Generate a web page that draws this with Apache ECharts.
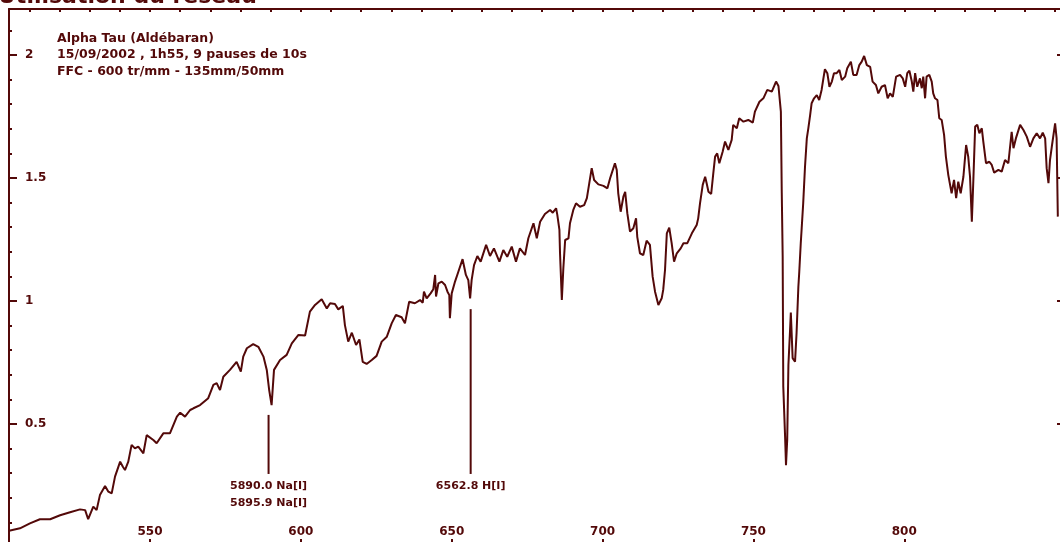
<!DOCTYPE html>
<html>
<head>
<meta charset="utf-8">
<script src="https://cdn.jsdelivr.net/npm/echarts@6.0.0/dist/echarts.min.js"></script>
<style>
  html, body { margin: 0; padding: 0; background: #ffffff; }
  #chart { width: 1060px; height: 542px; }
</style>
</head>
<body>
<div id="chart"></div>
<script>
// Spectre d'Aldébaran : longueur d'onde (nm) et intensité relative
const wavelengths = [
  503.3, 506.9, 510.2, 513.5, 516.9, 520.2, 523.5, 526.8, 528.5, 529.5,
  531.2, 532.3, 533.4, 535.1, 536.2, 537.3, 538.4, 540.1, 541.0, 541.7,
  542.8, 543.9, 545.0, 546.1, 547.8, 548.9, 551.1, 552.2, 554.4, 556.6,
  558.9, 560.0, 561.6, 563.3, 564.4, 566.6, 569.3, 571.0, 572.1, 573.2,
  574.3, 576.5, 578.7, 580.1, 580.9, 582.1, 584.2, 585.9, 587.6, 588.7,
  589.5, 590.3, 591.1, 593.1, 595.3, 597.0, 599.2, 601.4, 603.0, 604.7,
  606.9, 608.6, 609.7, 611.3, 612.4, 613.9, 614.6, 615.7, 616.9, 618.3,
  619.4, 620.5, 621.8, 623.5, 625.1, 626.8, 628.5, 630.1, 631.5, 633.4,
  634.5, 635.9, 637.8, 639.5, 640.4, 640.8, 641.7, 643.0, 643.9, 644.5,
  644.8, 645.6, 646.7, 647.8, 648.6, 649.2, 649.4, 650.0, 651.1, 652.2,
  653.6, 654.7, 655.5, 656.1, 656.6, 657.4, 658.5, 659.6, 661.4, 662.7,
  664.0, 665.8, 667.1, 668.4, 669.9, 671.3, 672.6, 674.3, 675.4, 677.1,
  678.2, 679.3, 680.9, 682.6, 683.5, 684.6, 685.0, 685.7, 685.9, 686.5,
  687.0, 687.6, 688.7, 689.2, 690.3, 691.2, 692.5, 693.9, 694.8, 695.6,
  696.4, 697.2, 698.6, 700.3, 701.6, 702.5, 703.4, 704.1, 704.7, 705.2,
  706.0, 706.9, 707.5, 708.2, 709.1, 710.2, 711.1, 711.5, 712.4, 713.5,
  714.6, 715.7, 716.6, 717.4, 718.5, 719.6, 720.1, 720.7, 721.3, 722.1,
  722.9, 723.7, 724.6, 725.9, 726.8, 728.1, 729.6, 731.2, 731.7, 732.3,
  733.2, 734.0, 734.5, 735.1, 736.0, 736.7, 737.3, 738.0, 738.7, 739.8,
  740.6, 741.7, 742.8, 743.3, 744.5, 745.3, 746.7, 748.3, 749.8, 750.5,
  752.0, 753.3, 754.6, 756.1, 757.5, 758.3, 759.1, 759.4, 759.7, 759.9,
  760.5, 760.8, 761.2, 761.6, 762.1, 762.4, 763.0, 763.8, 764.3, 764.9,
  765.2, 765.7, 766.0, 766.5, 767.1, 767.7, 768.2, 768.8, 769.3, 770.1,
  771.0, 771.8, 772.6, 773.2, 773.7, 774.5, 775.2, 776.0, 776.7, 777.6,
  778.5, 779.3, 780.4, 781.1, 782.3, 783.1, 784.2, 785.1, 785.9, 786.7,
  787.6, 788.7, 789.5, 790.6, 791.4, 792.5, 793.6, 794.5, 795.3, 796.2,
  797.3, 798.6, 799.5, 800.3, 801.0, 801.7, 802.5, 803.0, 803.6, 804.3,
  805.2, 805.8, 806.3, 806.9, 807.4, 808.3, 809.1, 809.6, 810.2, 811.0,
  811.6, 812.4, 813.2, 813.8, 814.6, 815.7, 816.5, 817.2, 817.9, 818.7,
  819.6, 820.5, 821.2, 821.8, 822.4, 822.9, 823.5, 824.2, 824.9, 825.7,
  826.2, 827.1, 828.2, 829.0, 829.8, 831.2, 832.3, 833.4, 834.5, 835.6,
  836.2, 837.0, 838.4, 839.5, 840.6, 841.7, 842.8, 843.9, 845.0, 845.9,
  846.7, 847.2, 847.8, 848.3, 848.9, 850.0, 850.5, 850.9
];
const intensity = [
  0.066, 0.076, 0.096, 0.113, 0.113, 0.129, 0.141, 0.153, 0.150, 0.113,
  0.164, 0.150, 0.211, 0.248, 0.225, 0.218, 0.286, 0.347, 0.326, 0.313,
  0.347, 0.415, 0.401, 0.408, 0.381, 0.455, 0.435, 0.422, 0.462, 0.462,
  0.530, 0.546, 0.530, 0.557, 0.564, 0.577, 0.605, 0.659, 0.666, 0.638,
  0.692, 0.720, 0.753, 0.713, 0.774, 0.808, 0.825, 0.814, 0.774, 0.720,
  0.638, 0.577, 0.720, 0.760, 0.781, 0.828, 0.862, 0.860, 0.957, 0.984,
  1.007, 0.970, 0.991, 0.988, 0.966, 0.980, 0.902, 0.835, 0.871, 0.821,
  0.844, 0.753, 0.744, 0.760, 0.777, 0.835, 0.855, 0.909, 0.943, 0.934,
  0.909, 0.997, 0.991, 1.004, 0.993, 1.038, 1.011, 1.031, 1.048, 1.106,
  1.018, 1.072, 1.079, 1.065, 1.038, 1.024, 0.930, 1.031, 1.079, 1.119,
  1.170, 1.106, 1.085, 1.011, 1.085, 1.146, 1.183, 1.160, 1.228, 1.183,
  1.214, 1.160, 1.207, 1.180, 1.221, 1.160, 1.214, 1.187, 1.255, 1.316,
  1.255, 1.322, 1.354, 1.370, 1.359, 1.377, 1.350, 1.289, 1.194, 1.004,
  1.133, 1.248, 1.255, 1.316, 1.370, 1.397, 1.383, 1.390, 1.418, 1.479,
  1.540, 1.492, 1.474, 1.468, 1.458, 1.499, 1.533, 1.560, 1.533, 1.438,
  1.363, 1.424, 1.444, 1.357, 1.282, 1.296, 1.336, 1.261, 1.194, 1.187,
  1.245, 1.228, 1.099, 1.038, 0.984, 1.011, 1.045, 1.126, 1.275, 1.298,
  1.235, 1.160, 1.194, 1.214, 1.235, 1.235, 1.275, 1.309, 1.336, 1.397,
  1.472, 1.505, 1.479, 1.444, 1.435, 1.519, 1.587, 1.600, 1.560, 1.607,
  1.648, 1.614, 1.655, 1.716, 1.702, 1.743, 1.729, 1.736, 1.725, 1.770,
  1.810, 1.824, 1.858, 1.851, 1.892, 1.874, 1.770, 1.438, 1.180, 0.652,
  0.448, 0.333, 0.435, 0.740, 0.870, 0.953, 0.768, 0.753, 0.869, 1.058,
  1.119, 1.237, 1.296, 1.397, 1.546, 1.661, 1.702, 1.756, 1.804, 1.824,
  1.837, 1.817, 1.858, 1.905, 1.942, 1.926, 1.871, 1.892, 1.926, 1.926,
  1.939, 1.898, 1.912, 1.946, 1.973, 1.919, 1.919, 1.959, 1.973, 1.996,
  1.959, 1.952, 1.892, 1.878, 1.844, 1.871, 1.878, 1.824, 1.844, 1.830,
  1.912, 1.919, 1.905, 1.871, 1.926, 1.936, 1.892, 1.851, 1.926, 1.871,
  1.905, 1.865, 1.912, 1.824, 1.912, 1.919, 1.892, 1.844, 1.824, 1.817,
  1.743, 1.736, 1.675, 1.587, 1.512, 1.438, 1.492, 1.418, 1.485, 1.438,
  1.505, 1.634, 1.587, 1.505, 1.322, 1.492, 1.709, 1.716, 1.682, 1.702,
  1.648, 1.560, 1.566, 1.553, 1.522, 1.533, 1.526, 1.573, 1.560, 1.688,
  1.621, 1.661, 1.716, 1.695, 1.668, 1.627, 1.661, 1.682, 1.661, 1.684,
  1.661, 1.540, 1.479, 1.573, 1.627, 1.722, 1.661, 1.343
];

// Raies identifiées : longueurs d'onde (Å) et libellés
const naLinesA = [5890.0, 5895.9];
const haLinesA = [6562.8];
const lineLabelsNa = ['5890.0 Na[I]', '5895.9 Na[I]'];
const lineLabelsHa = ['6562.8 H[I]'];
// Extrémités verticales des repères (intensité)
const markerTop = [0.537, 0.967];
const markerBottom = 0.297;

// Graduations
const xLabelTicks = [550, 600, 650, 700, 750, 800];
const xMinorTicks = [510, 520, 530, 540, 550, 560, 570, 580, 590, 600, 610, 620, 630, 640, 650,
  660, 670, 680, 690, 700, 710, 720, 730, 740, 750, 760, 770, 780, 790, 800, 810, 820, 830, 840, 850];
const yLabelTicks = [0.5, 1, 1.5, 2];
const yMinorTicks = [0.1, 0.2, 0.3, 0.4, 0.6, 0.7, 0.8, 0.9, 1.1, 1.2, 1.3, 1.4, 1.6, 1.7, 1.8, 1.9, 2.1];

const infoLines = ['Alpha Tau (Aldébaran)', '15/09/2002 , 1h55, 9 pauses de 10s', 'FFC - 600 tr/mm - 135mm/50mm'];

const INK = '#530909';
const FONT = '"DejaVu Sans", Verdana, sans-serif';

const mean = a => a.reduce((s, v) => s + v, 0) / a.length;
const naNm = mean(naLinesA) / 10;
const haNm = haLinesA[0] / 10;

const X_MIN = 503.26, X_MAX = 851.62;
const Y_MIN = 0.0204, Y_MAX = 2.187;

const spectrum = wavelengths.map((w, i) => [w, intensity[i]]);

const chart = echarts.init(document.getElementById('chart'), null, { renderer: 'canvas' });

chart.setOption({
  animation: false,
  backgroundColor: '#ffffff',
  textStyle: { fontFamily: FONT, color: INK },
  title: {
    text: infoLines.join('\n'),
    left: 57,
    top: 30,
    padding: 0,
    textStyle: { fontFamily: FONT, fontSize: 12.5, fontWeight: 'bold', color: INK, lineHeight: 16.5 }
  },
  graphic: [{
    type: 'text',
    left: -2,
    top: -14,
    style: { text: 'Utilisation du réseau', font: 'bold 22px ' + FONT, fill: INK }
  }],
  grid: { left: 9, right: 0, top: 9, bottom: 0, containLabel: false },
  xAxis: [{
    type: 'value', position: 'bottom', min: X_MIN, max: X_MAX,
    axisLine: { show: false },
    axisTick: { show: true, inside: true, length: 3, customValues: xLabelTicks, lineStyle: { color: INK, width: 2 } },
    axisLabel: { show: true, inside: true, margin: 4, customValues: xLabelTicks,
      fontFamily: FONT, fontSize: 12, fontWeight: 'bold', color: INK },
    splitLine: { show: false }
  }, {
    type: 'value', position: 'top', min: X_MIN, max: X_MAX,
    axisLine: { show: true, lineStyle: { color: INK, width: 2 } },
    axisTick: { show: true, inside: true, length: 3, customValues: xMinorTicks, lineStyle: { color: INK, width: 2 } },
    axisLabel: { show: false },
    splitLine: { show: false }
  }],
  yAxis: [{
    type: 'value', position: 'left', min: Y_MIN, max: Y_MAX,
    axisLine: { show: true, lineStyle: { color: INK, width: 2 } },
    axisTick: { show: true, inside: true, length: 8, customValues: yLabelTicks, lineStyle: { color: INK, width: 2 } },
    axisLabel: { show: true, inside: true, margin: 16, customValues: yLabelTicks,
      fontFamily: FONT, fontSize: 12, fontWeight: 'bold', color: INK },
    splitLine: { show: false }
  }, {
    type: 'value', position: 'left', offset: 0, min: Y_MIN, max: Y_MAX,
    axisLine: { show: false },
    axisTick: { show: true, inside: true, length: 3, customValues: yMinorTicks, lineStyle: { color: INK, width: 2 } },
    axisLabel: { show: false },
    splitLine: { show: false }
  }, {
    type: 'value', position: 'right', min: Y_MIN, max: Y_MAX,
    axisLine: { show: false },
    axisTick: { show: true, inside: true, length: 3, customValues: yLabelTicks, lineStyle: { color: INK, width: 2 } },
    axisLabel: { show: false },
    splitLine: { show: false }
  }],
  series: [{
    name: 'Alpha Tau',
    type: 'line',
    data: spectrum,
    showSymbol: false,
    symbol: 'none',
    smooth: false,
    lineStyle: { color: INK, width: 2 },
    z: 3
  }, {
    type: 'line',
    data: [[naNm, markerTop[0]], [naNm, markerBottom]],
    symbol: 'none',
    lineStyle: { color: INK, width: 2 }
  }, {
    type: 'line',
    data: [[haNm, markerTop[1]], [haNm, markerBottom]],
    symbol: 'none',
    lineStyle: { color: INK, width: 2 }
  }, {
    type: 'scatter',
    symbol: 'circle',
    symbolSize: 1,
    itemStyle: { color: 'rgba(0,0,0,0)' },
    data: [
      { value: [naNm, markerBottom], text: lineLabelsNa.join('\n') },
      { value: [haNm, markerBottom], text: lineLabelsHa.join('\n') }
    ],
    label: {
      show: true,
      position: 'bottom',
      distance: 3,
      formatter: p => p.data.text,
      fontFamily: FONT,
      fontSize: 11,
      fontWeight: 'bold',
      color: INK,
      opacity: 1,
      lineHeight: 17,
      align: 'center'
    }
  }]
});
</script>
</body>
</html>
